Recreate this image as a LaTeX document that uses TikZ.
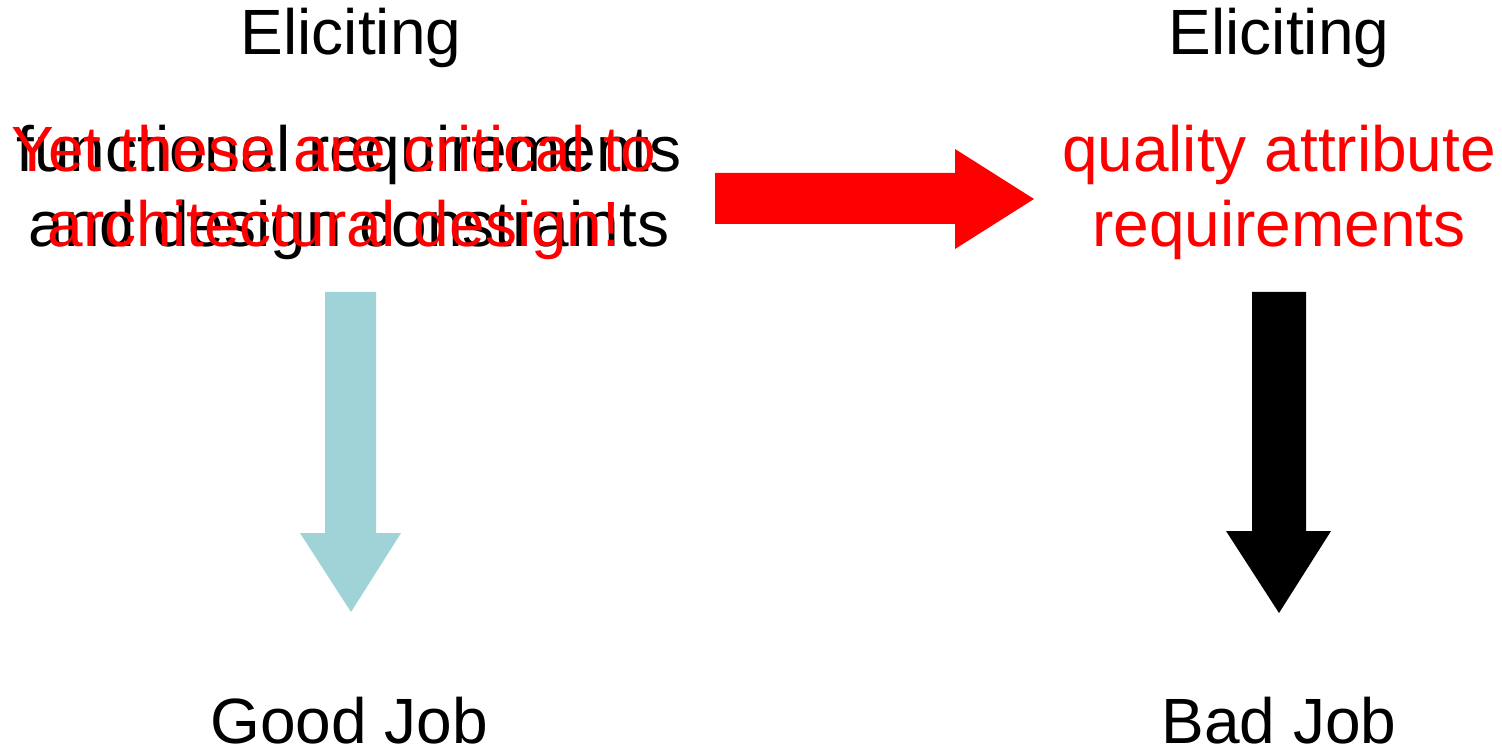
\documentclass[tikz,border=0pt]{standalone}
\usepackage{fontspec}
\setmainfont{Liberation Sans}
\definecolor{goodteal}{RGB}{160,211,215}
\tikzset{
  bigtext/.style={font=\fontsize{32}{38}\selectfont, inner sep=0pt, anchor=base},
  redtext/.style={bigtext, text=red}
}
\begin{document}
\begin{tikzpicture}[x=0.5pt, y=-0.5pt]
\useasboundingbox (0,0) rectangle (1502,748);

% headings
\node[bigtext] (elicitL) at (351,55) {Eliciting};
\node[bigtext] (elicitR) at (1279,55) {Eliciting};

% left side, two texts on top of each other
\node[bigtext] (funcA) at (349,172) {functional requirements};
\node[bigtext] (funcB) at (349,247) {and design constraints};
\node[redtext] (critA) at (334,172) {Yet these are critical to};
\node[redtext] (critB) at (334,247) {architectural design!};

% right side
\node[redtext] (qualA) at (1279,172) {quality attribute};
\node[redtext] (qualB) at (1279,247) {requirements};

% results
\node[bigtext] (good) at (349,743) {Good Job};
\node[bigtext] (bad) at (1279,743) {Bad Job};

% block arrows
\fill[red] (715,173) -- (955,173) -- (955,149) -- (1034,199) -- (955,249)
	-- (955,224) -- (715,224) -- cycle;
\fill[goodteal] (325,292) -- (376,292) -- (376,533) -- (401,533) -- (351,612)
	-- (300,533) -- (325,533) -- cycle;
\fill[black] (1252,292) -- (1306,292) -- (1306,531) -- (1331,531) -- (1279,613)
	-- (1226,531) -- (1252,531) -- cycle;

\end{tikzpicture}
\end{document}
